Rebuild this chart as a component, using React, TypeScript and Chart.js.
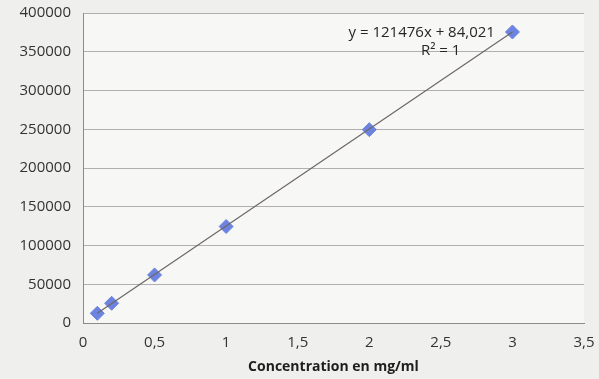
import React, { useEffect, useRef } from "react";
import { Chart, registerables } from "chart.js";
Chart.register(...registerables);

const concentrations = [0.1, 0.2, 0.5, 1, 2, 3];
const absorbances = [12500, 25500, 62000, 124500, 249500, 375500];
const trendX = [0.1, 3];
const trendY = [12500, 375500];
const equationLines = ["y = 121476x + 84,021", "R² = 1"];
const xTitle = "Concentration en mg/ml";

const FONT = "'Open Sans', 'Liberation Sans', sans-serif";

const labelPlugin = {
  id: "eqLabel",
  afterDatasetsDraw(chart: any) {
    const { ctx, scales } = chart;
    const cx = scales.x.getPixelForValue(2.45);
    const cy = scales.y.getPixelForValue(374000);
    ctx.save();
    ctx.fillStyle = "#262626";
    ctx.font = `15px ${FONT}`;
    ctx.textAlign = "center";
    ctx.textBaseline = "middle";
    ctx.fillText(equationLines[0], cx - 12, cy);
    ctx.fillText(equationLines[1], cx + 7, cy + 18);
    ctx.restore();
  },
};

const bgPlugin = {
  id: "bg",
  beforeDraw(chart: any) {
    const { ctx, width, height, chartArea } = chart;
    ctx.save();
    ctx.fillStyle = "#efefed";
    ctx.fillRect(0, 0, width, height);
    ctx.fillStyle = "#f7f7f5";
    ctx.fillRect(chartArea.left, chartArea.top, chartArea.right - chartArea.left, chartArea.bottom - chartArea.top);
    ctx.restore();
  },
};

export default function App() {
  const ref = useRef<HTMLCanvasElement>(null);
  useEffect(() => {
    document.body.style.margin = "0";
    const chart = new Chart(ref.current!, {
      type: "scatter",
      data: {
        datasets: [
          {
            type: "line",
            data: trendX.map((x, i) => ({ x, y: trendY[i] })),
            borderColor: "#6e6865",
            borderWidth: 1.2,
            pointRadius: 0,
            fill: false,
          },
          {
            data: concentrations.map((x, i) => ({ x, y: absorbances[i] })),
            pointStyle: "rectRot",
            pointRadius: 7,
            backgroundColor: "#6d83e0",
            borderColor: "#6d83e0",
            borderWidth: 1,
          },
        ],
      },
      options: {
        responsive: false,
        animation: false,
        layout: { padding: { left: 0, right: 15, top: 13, bottom: 0 } },
        plugins: { legend: { display: false }, tooltip: { enabled: false } },
        scales: {
          x: {
            type: "linear",
            min: 0,
            max: 3.5,
            ticks: {
              stepSize: 0.5,
              color: "#333333",
              font: { family: FONT, size: 15 },
              padding: 11,
              callback: (v: any) => String(v).replace(".", ","),
            },
            grid: { display: false, drawTicks: false },
            border: { display: true, color: "#8a8a8a" },
            title: {
              display: true,
              text: xTitle,
              color: "#1e1e1e",
              font: { family: FONT, size: 14, weight: "bold" },
              padding: { top: 0 },
            },
            afterFit: (s: any) => {
              s.height = 56;
              s.paddingLeft = 0;
              s.paddingRight = 0;
            },
          },
          y: {
            min: 0,
            max: 400000,
            ticks: {
              stepSize: 50000,
              color: "#333333",
              font: { family: FONT, size: 15 },
              padding: 12,
              callback: (v: any) => String(v),
            },
            grid: { color: "#b0b0ae", drawTicks: false, lineWidth: 1 },
            border: { display: true, color: "#8a8a8a" },
            afterFit: (s: any) => {
              s.width = 83;
              s.paddingTop = 0;
              s.paddingBottom = 0;
            },
          },
        },
      },
      plugins: [bgPlugin, labelPlugin],
    });
    return () => chart.destroy();
  }, []);
  return <canvas ref={ref} width={599} height={379} style={{ display: "block" }} />;
}
